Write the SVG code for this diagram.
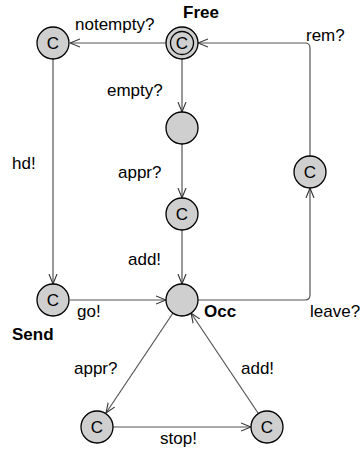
<svg xmlns="http://www.w3.org/2000/svg" width="362" height="451" viewBox="0 0 362 451">
<style>
.loc{fill:#cfcfcf;stroke:#000;stroke-width:1.3}
.ring{fill:none;stroke:#000;stroke-width:1.3}
.c{font-family:"Liberation Sans",Arial,sans-serif;font-size:17px;fill:#000;text-anchor:middle}
.lbl{font-family:"Liberation Sans",Arial,sans-serif;font-size:17px;fill:#000}
.name{font-family:"Liberation Sans",Arial,sans-serif;font-size:17px;font-weight:bold;fill:#000}
.e{fill:none;stroke:#555;stroke-width:1.2;marker-end:url(#arr)}
</style>
<defs>
<marker id="arr" viewBox="0 0 10 10" refX="10" refY="5" markerWidth="10" markerHeight="10" markerUnits="userSpaceOnUse" orient="auto">
<path d="M0,1 L10,5 L0,9" fill="none" stroke="#333" stroke-width="1.1"/>
</marker>
</defs>
<g id="edges">
<path class="e" d="M166,43 L70,43"/>
<path class="e" d="M182,59 L182,112"/>
<path class="e" d="M182,144 L182,198"/>
<path class="e" d="M182,230 L182,284"/>
<path class="e" d="M53,59 L53,284"/>
<path class="e" d="M70,300 L166,300"/>
<path class="e" d="M198,300 L305,300 Q310,300 310,295 L310,188"/>
<path class="e" d="M310,156 L310,48 Q310,43 305,43 L198,43"/>
<path class="e" stroke="#222" d="M173,313 L106,413"/>
<path class="e" d="M113,427 L251,427"/>
<path class="e" stroke="#222" d="M258,413 L191,313"/>
</g>
<g id="free">
<circle class="loc" cx="182" cy="43" r="16"/>
<circle class="ring" cx="182" cy="43" r="11.5"/>
<text class="c" x="182" y="49">C</text>
<text class="name" x="183" y="18">Free</text>
</g>
<g id="notempty">
<circle class="loc" cx="53" cy="43" r="16"/>
<text class="c" x="53" y="49">C</text>
</g>
<g id="empty">
<circle class="loc" cx="182" cy="128" r="16"/>
</g>
<g id="apprC">
<circle class="loc" cx="182" cy="214" r="16"/>
<text class="c" x="182" y="220">C</text>
</g>
<g id="occ">
<circle class="loc" cx="182" cy="300" r="16"/>
<text class="name" x="204" y="317">Occ</text>
</g>
<g id="send">
<circle class="loc" cx="53" cy="300" r="16"/>
<text class="c" x="53" y="306">C</text>
<text class="name" x="12" y="340">Send</text>
</g>
<g id="right">
<circle class="loc" cx="310" cy="172" r="16"/>
<text class="c" x="310" y="178">C</text>
</g>
<g id="bl">
<circle class="loc" cx="97" cy="427" r="16"/>
<text class="c" x="97" y="433">C</text>
</g>
<g id="br">
<circle class="loc" cx="267" cy="427" r="16"/>
<text class="c" x="267" y="433">C</text>
</g>
<g id="labels">
<text class="lbl" x="75" y="30">notempty?</text>
<text class="lbl" x="306" y="41">rem?</text>
<text class="lbl" x="107" y="96">empty?</text>
<text class="lbl" x="12" y="169">hd!</text>
<text class="lbl" x="118" y="178">appr?</text>
<text class="lbl" x="128" y="265">add!</text>
<text class="lbl" x="77" y="317">go!</text>
<text class="lbl" x="310" y="317">leave?</text>
<text class="lbl" x="74" y="374">appr?</text>
<text class="lbl" x="241" y="374">add!</text>
<text class="lbl" x="160" y="444">stop!</text>
</g>
</svg>
